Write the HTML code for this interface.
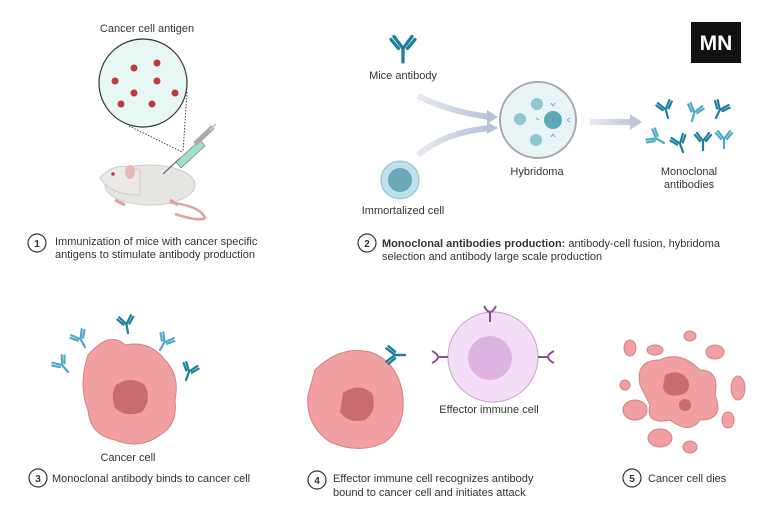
<!DOCTYPE html>
<html><head><meta charset="utf-8"><style>
body{margin:0;background:#fff}
svg{display:block}
text{font-family:"Liberation Sans",sans-serif;fill:#333}
</style></head><body>
<svg width="768" height="530" viewBox="0 0 768 530" xmlns="http://www.w3.org/2000/svg">
<defs>
<g id="ab"><path d="M0 0 V-9 M0 -9 L-6 -17 M0 -9 L6 -17 M-3 -9 L-8 -15 M3 -9 L8 -15" stroke-width="2.2" fill="none" stroke-linecap="round"/></g>
<linearGradient id="ar" x1="0" x2="1"><stop offset="0" stop-color="#e6e9f1"/><stop offset="1" stop-color="#b8c0d6"/></linearGradient>
</defs>
<!-- Panel 1 -->
<text x="147" y="32" font-size="11" text-anchor="middle">Cancer cell antigen</text>
<line x1="129" y1="126" x2="182" y2="152" stroke="#444" stroke-dasharray="1.5,1.5"/>
<line x1="187" y1="92" x2="183" y2="152" stroke="#444" stroke-dasharray="1.5,1.5"/>
<circle cx="143" cy="83" r="44" fill="#e6f7f4" stroke="#333" stroke-width="1.2"/>
<g fill="#c0393f"><circle cx="134" cy="68" r="3.5"/><circle cx="157" cy="63" r="3.5"/><circle cx="115" cy="81" r="3.5"/><circle cx="157" cy="81" r="3.5"/><circle cx="134" cy="93" r="3.5"/><circle cx="175" cy="93" r="3.5"/><circle cx="121" cy="104" r="3.5"/><circle cx="152" cy="104" r="3.5"/></g>
<!-- mouse -->
<path d="M165 202 Q200 205 205 218 Q200 222 175 214" stroke="#e0a0a0" stroke-width="2.5" fill="none"/>
<ellipse cx="150" cy="185" rx="45" ry="20" fill="#e8e6e3" stroke="#ccc"/>
<path d="M100 178 Q115 160 140 170 L140 195 Q110 195 100 178Z" fill="#ebe9e6" stroke="#ccc"/>
<ellipse cx="130" cy="172" rx="5" ry="7" fill="#e8b8b8"/>
<circle cx="113" cy="174" r="1.8" fill="#c0393f"/>
<path d="M115 200 l10 5 M170 200 l8 5" stroke="#e0a0a0" stroke-width="3"/>
<!-- syringe -->
<line x1="163" y1="174" x2="180" y2="158" stroke="#555" stroke-width="1"/>
<path d="M176 162 L200 140 L205 146 L181 168Z" fill="#9fe0cf" stroke="#777" stroke-width="0.7"/>
<path d="M195 144 L213 127" stroke="#aaa" stroke-width="5"/>
<path d="M210 130 L216 124" stroke="#ccc" stroke-width="2"/>
<circle cx="37" cy="243" r="9" fill="#fff" stroke="#333" stroke-width="1.2"/>
<text x="37" y="247" font-size="10" font-weight="bold" text-anchor="middle">1</text>
<text x="55" y="245" font-size="11">Immunization of mice with cancer specific</text>
<text x="55" y="258" font-size="11">antigens to stimulate antibody production</text>
<!-- Panel 2 -->
<g stroke="#1d7e9e" transform="translate(403,62) scale(1.5)"><use href="#ab"/></g>
<text x="403" y="79" font-size="11" text-anchor="middle">Mice antibody</text>
<path d="M418 96 Q450 112 490 117" stroke="url(#ar)" stroke-width="6" fill="none"/>
<path d="M487 110 L498 117 L487 124Z" fill="#b8c0d6"/>
<path d="M418 155 Q445 132 490 128" stroke="url(#ar)" stroke-width="6" fill="none"/>
<path d="M487 122 L498 128 L487 134Z" fill="#b8c0d6"/>
<circle cx="400" cy="180" r="19" fill="#bfe0e8" stroke="#8cc0cc"/>
<circle cx="400" cy="180" r="12" fill="#6aa8b8"/>
<text x="403" y="214" font-size="11" text-anchor="middle">Immortalized cell</text>
<circle cx="538" cy="120" r="38" fill="#e8f4f6" stroke="#aaa" stroke-width="2"/>
<circle cx="537" cy="104" r="6" fill="#8ec7cc"/><circle cx="520" cy="119" r="6" fill="#8ec7cc"/><circle cx="553" cy="120" r="9" fill="#5ba8b8"/><circle cx="536" cy="140" r="6" fill="#8ec7cc"/>
<g stroke="#6aa8c0" stroke-width="1" fill="none"><path d="M553 106 l-2 -3 M553 106 l2 -3 M567 120 l3 -2 M567 120 l3 2 M553 134 l-2 3 M553 134 l2 3 M539 120 l-3 -2"/></g>
<path d="M590 119 L630 119 L630 114 L642 122 L630 130 L630 125 L590 125Z" fill="url(#ar)"/>
<text x="537" y="175" font-size="11" text-anchor="middle">Hybridoma</text>
<g stroke="#1d7e9e"><use href="#ab" transform="translate(668,118) rotate(-15)"/><use href="#ab" transform="translate(692,121) rotate(15)" stroke="#4fa8c8"/><use href="#ab" transform="translate(716,118) rotate(25)"/><use href="#ab" transform="translate(664,143) rotate(-60)" stroke="#4fa8c8"/><use href="#ab" transform="translate(683,152) rotate(-20)"/><use href="#ab" transform="translate(703,150)"/><use href="#ab" transform="translate(724,148)" stroke="#4fa8c8"/></g>
<text x="689" y="175" font-size="11" text-anchor="middle">Monoclonal</text>
<text x="689" y="188" font-size="11" text-anchor="middle">antibodies</text>
<rect x="691" y="22" width="50" height="41" fill="#111"/>
<text x="716" y="50" font-size="21" font-weight="bold" text-anchor="middle" style="fill:#fff">MN</text>
<circle cx="367" cy="243" r="9" fill="#fff" stroke="#333" stroke-width="1.2"/>
<text x="367" y="247" font-size="10" font-weight="bold" text-anchor="middle">2</text>
<text x="382" y="247" font-size="11"><tspan font-weight="bold">Monoclonal antibodies production:</tspan> antibody-cell fusion, hybridoma</text>
<text x="382" y="260" font-size="11">selection and antibody large scale production</text>
<!-- Panel 3 -->
<path d="M88 355 Q110 330 125 345 Q150 340 165 360 Q180 375 175 400 Q178 425 160 435 Q140 450 115 440 Q90 435 88 410 Q78 385 88 355Z" fill="#f0a0a0" stroke="#d88080"/>
<path d="M116 385 Q130 375 145 385 Q152 400 142 412 Q125 418 115 408 Q110 395 116 385Z" fill="#c96b6f"/>
<g stroke="#1d7e9e"><use href="#ab" transform="translate(68,372) rotate(-40)" stroke="#4fa8c8"/><use href="#ab" transform="translate(85,347) rotate(-30)" stroke="#4fa8c8"/><use href="#ab" transform="translate(128,333) rotate(-10)"/><use href="#ab" transform="translate(160,350) rotate(30)" stroke="#4fa8c8"/><use href="#ab" transform="translate(186,380) rotate(20)"/></g>
<text x="128" y="461" font-size="11" text-anchor="middle">Cancer cell</text>
<circle cx="38" cy="478" r="9" fill="#fff" stroke="#333" stroke-width="1.2"/>
<text x="38" y="482" font-size="10" font-weight="bold" text-anchor="middle">3</text>
<text x="52" y="482" font-size="11">Monoclonal antibody binds to cancer cell</text>
<!-- Panel 4 -->
<path d="M315 370 Q340 345 370 352 Q395 360 402 390 Q408 425 385 442 Q360 455 330 442 Q305 425 308 395Z" fill="#f0a0a0" stroke="#d88080"/>
<path d="M343 393 Q358 382 372 393 Q378 410 365 420 Q348 424 340 412Z" fill="#c96b6f"/>
<g stroke="#1d7e9e"><use href="#ab" transform="translate(405,355) rotate(-90) scale(1.1)"/></g>
<circle cx="493" cy="357" r="45" fill="#f4ddf6" stroke="#c9a0d0"/>
<circle cx="490" cy="358" r="22" fill="#dcb4df"/>
<g stroke="#8e4f92" stroke-width="2" fill="none"><path d="M490 312 V322 M484 306 Q490 318 496 306"/><path d="M448 357 H438 M432 351 Q444 357 432 363"/><path d="M538 357 H548 M554 351 Q542 357 554 363"/></g>
<text x="489" y="413" font-size="11" text-anchor="middle">Effector immune cell</text>
<circle cx="317" cy="480" r="9" fill="#fff" stroke="#333" stroke-width="1.2"/>
<text x="317" y="484" font-size="10" font-weight="bold" text-anchor="middle">4</text>
<text x="333" y="482" font-size="11">Effector immune cell recognizes antibody</text>
<text x="333" y="496" font-size="11">bound to cancer cell and initiates attack</text>
<!-- Panel 5 -->
<g fill="#f0a0a0" stroke="#d88080">
<path d="M640 385 Q635 360 660 360 Q680 350 700 370 Q720 370 715 395 Q725 420 700 420 Q690 435 670 420 Q645 425 650 405Z"/>
<ellipse cx="630" cy="348" rx="6" ry="8"/><ellipse cx="655" cy="350" rx="8" ry="5"/><ellipse cx="690" cy="336" rx="6" ry="5"/><ellipse cx="715" cy="352" rx="9" ry="7"/><ellipse cx="625" cy="385" rx="5" ry="5"/><ellipse cx="635" cy="410" rx="12" ry="10"/><ellipse cx="738" cy="388" rx="7" ry="12"/><ellipse cx="660" cy="438" rx="12" ry="9"/><ellipse cx="690" cy="447" rx="7" ry="6"/><ellipse cx="728" cy="420" rx="6" ry="8"/>
</g>
<path d="M665 375 Q680 368 688 380 Q692 392 680 395 Q665 398 663 387Z" fill="#c96b6f"/>
<circle cx="685" cy="405" r="6" fill="#c96b6f"/>
<circle cx="632" cy="478" r="9" fill="#fff" stroke="#333" stroke-width="1.2"/>
<text x="632" y="482" font-size="10" font-weight="bold" text-anchor="middle">5</text>
<text x="648" y="482" font-size="11">Cancer cell dies</text>
</svg>
</body></html>
